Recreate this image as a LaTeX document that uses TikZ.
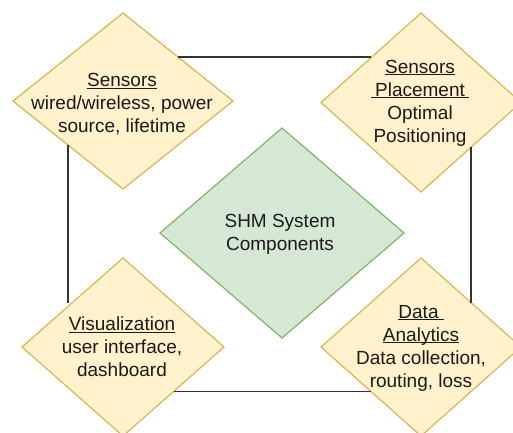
\documentclass[tikz,border=0pt]{standalone}
\usepackage{fontspec}
\setmainfont{Liberation Sans}
\usetikzlibrary{shapes.geometric}
\definecolor{yfill}{HTML}{FFF2CC}
\definecolor{ydraw}{HTML}{D6B656}
\definecolor{gfill}{HTML}{D5E8D4}
\definecolor{gdraw}{HTML}{82B366}
\definecolor{txt}{HTML}{1A1A1A}
\definecolor{edgec}{HTML}{333333}
\newcommand{\ulx}[1]{\underline{\smash{#1}}\vphantom{#1}}
\begin{document}
\begin{tikzpicture}[x=1pt,y=-1pt,
  dia/.style={diamond, inner sep=0pt, outer sep=0pt, line width=1.2pt},
  ydia/.style={dia, fill=yfill, draw=ydraw},
  gdia/.style={dia, fill=gfill, draw=gdraw},
  lbl/.style={align=center, text=txt, font=\fontsize{19}{23}\selectfont, inner sep=0pt},
  link/.style={draw=edgec, line width=1.3pt}]
\useasboundingbox (0,0) rectangle (513,432);
\begin{scope}
\clip (0,0) rectangle (513,432);
\node[ydia, minimum width=220pt, minimum height=176pt] (sensors) at (123,101) {};
\node[ydia, minimum width=200pt, minimum height=179pt] (placement) at (421,102.5) {};
\node[ydia, minimum width=202pt, minimum height=178pt] (vis) at (123,347) {};
\node[ydia, minimum width=200pt, minimum height=178pt] (da) at (421,347) {};
\node[gdia, minimum width=244pt, minimum height=210pt] (shm) at (282,233) {};

\draw[link] (sensors.north east) -- (sensors.north east -| placement.north west);
\draw[link] (placement.south east) -- (placement.south east |- da.north east);
\draw[link] (da.south west) -- (da.south west -| vis.south east);
\draw[link] (sensors.south west) -- (sensors.south west |- vis.north west);

\node[lbl] (sensorsT) at (122,104) {\ulx{Sensors}\\wired/wireless, power\\source, lifetime};
\node[lbl] (placementT) at (420,103) {\ulx{Sensors}\\\ulx{\hspace{4pt}Placement\hspace{4pt}}\\Optimal\\Positioning};
\node[lbl] (visT) at (122,347) {\ulx{Visualization}\\user interface,\\dashboard};
\node[lbl] (daT) at (421,348) {\ulx{Data\hspace{5pt}}\\\ulx{Analytics}\\Data collection,\\routing, loss};
\node[lbl] (shmT) at (280,234) {SHM System\\Components};
\end{scope}
\end{tikzpicture}
\end{document}
